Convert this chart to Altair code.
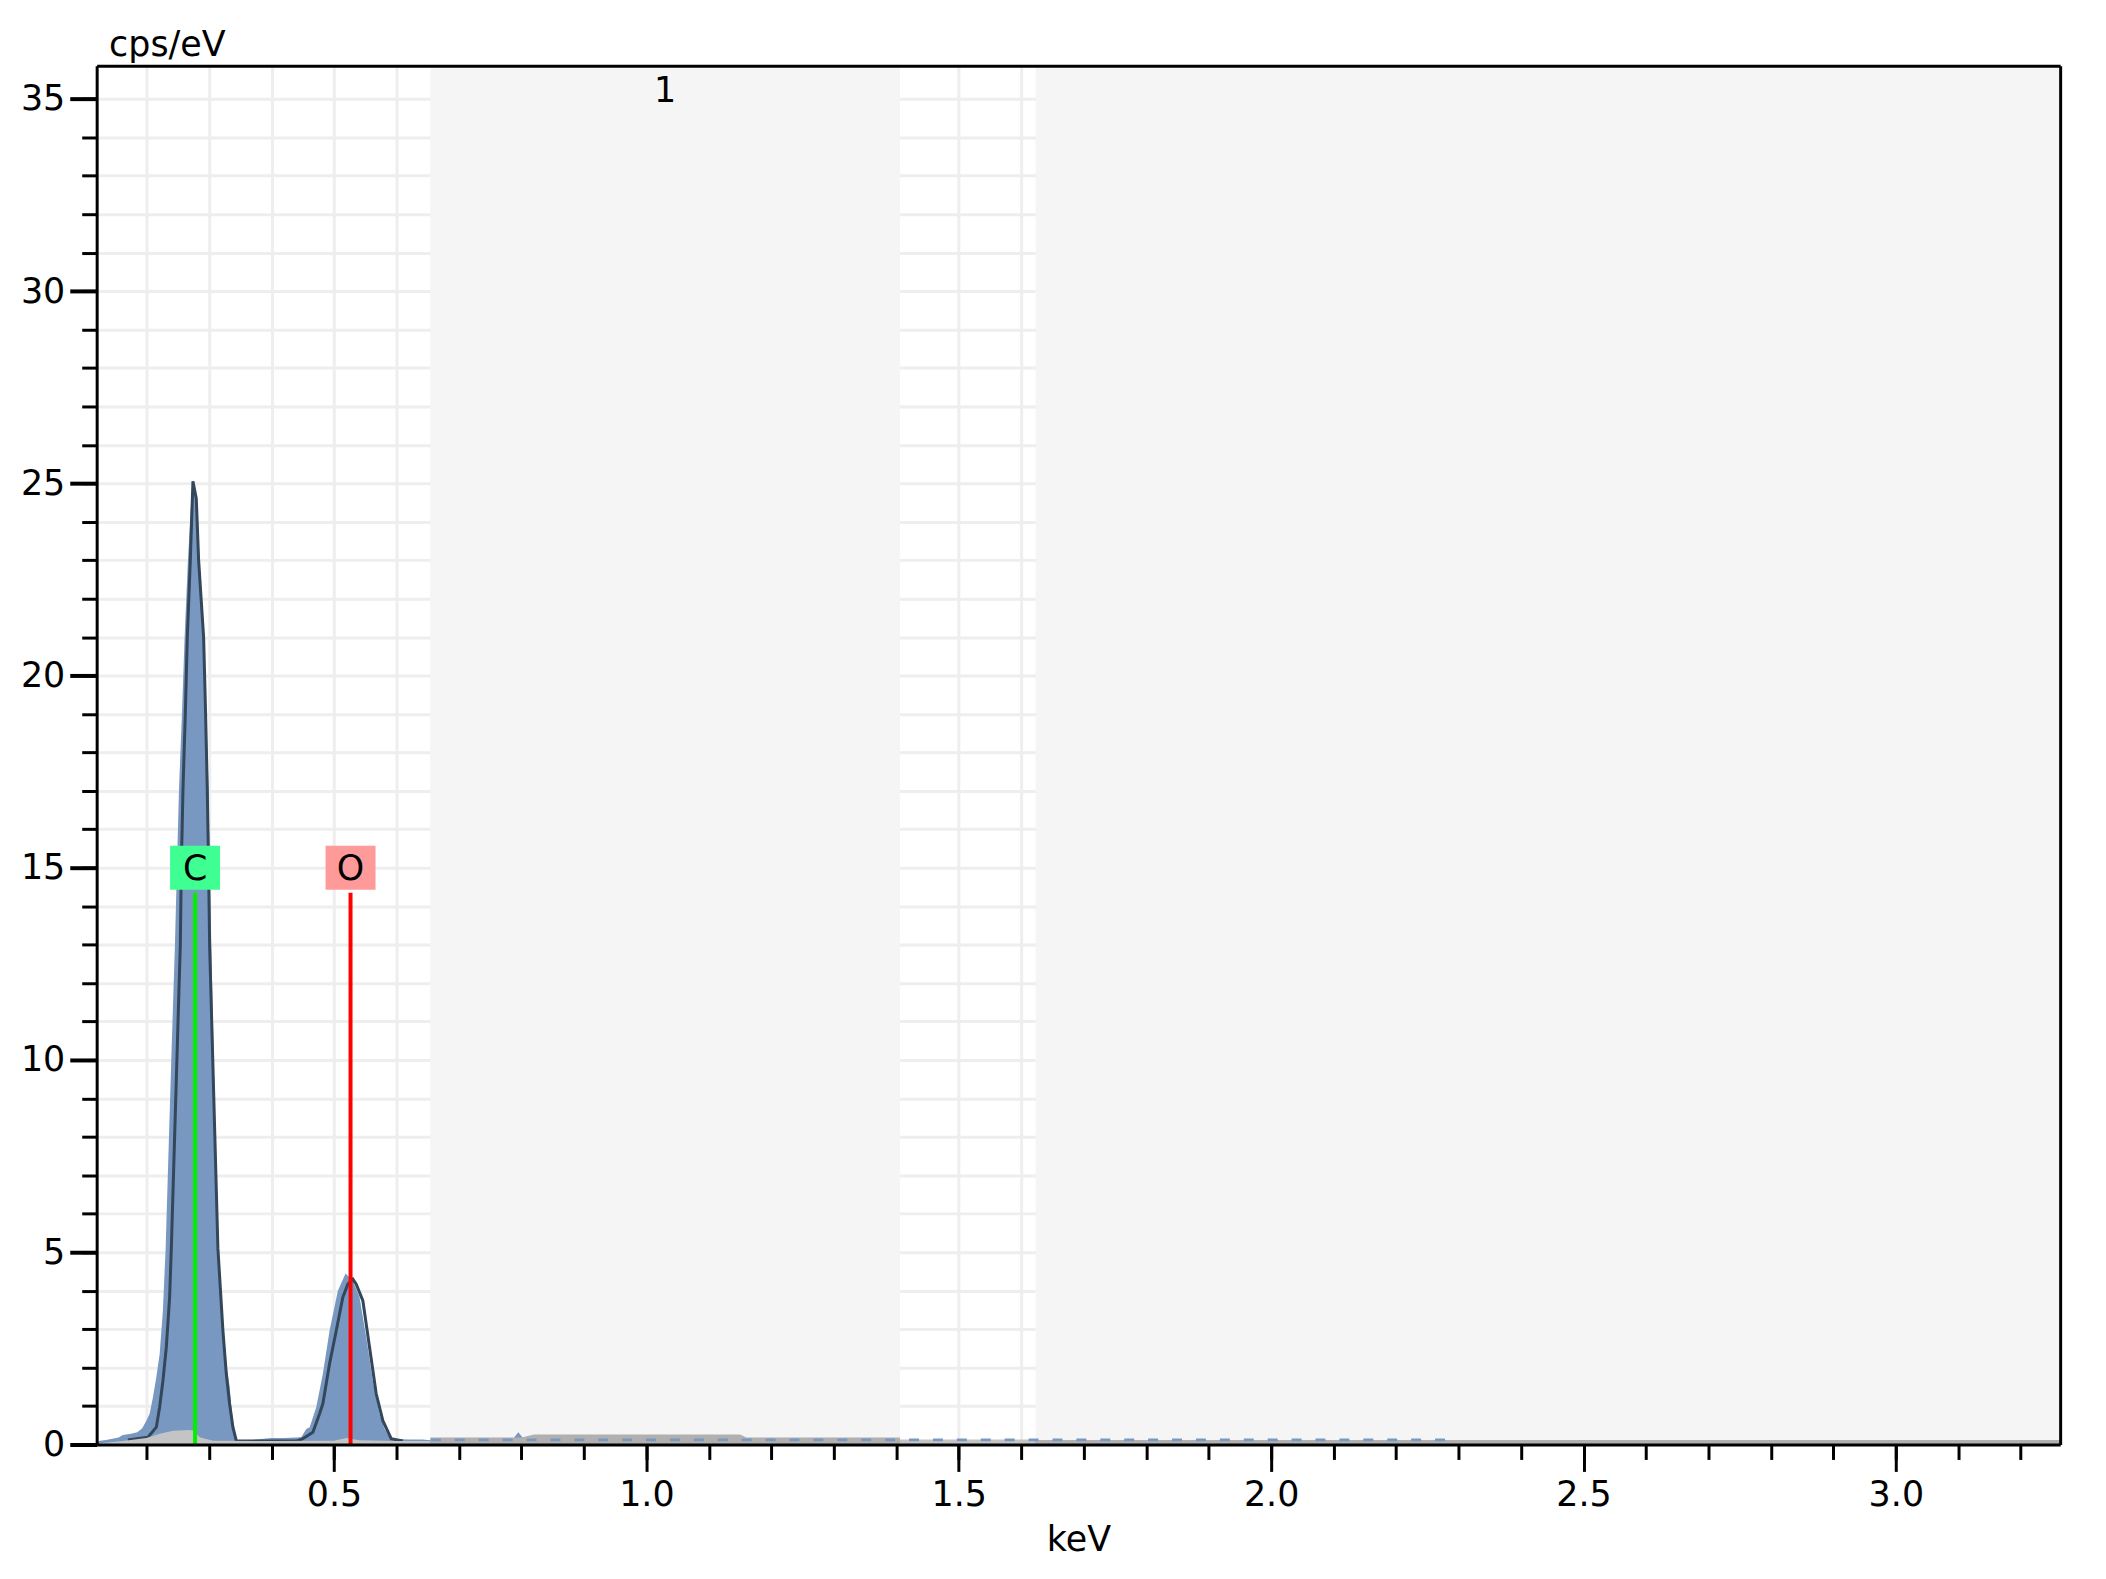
import altair as alt
import pandas as pd

# ---------------- data ----------------
# measured spectrum (filled blue area), keV / cps/eV
spec_energy = [0.120, 0.125, 0.135, 0.145, 0.155, 0.162, 0.175, 0.185, 0.193, 0.1995,
               0.2048, 0.2101, 0.2155, 0.2208, 0.2261, 0.2304, 0.235, 0.240, 0.2453, 0.2485,
               0.2517, 0.2565, 0.2608, 0.2661, 0.2715, 0.2752, 0.2805, 0.2848, 0.2917, 0.2955,
               0.2992, 0.3008, 0.3035, 0.307, 0.3105, 0.3141, 0.3195, 0.3248, 0.3285, 0.3328,
               0.3355, 0.3381, 0.3413, 0.3435, 0.350, 0.370, 0.3995, 0.420, 0.4475, 0.4555,
               0.461, 0.4715, 0.4821, 0.4928, 0.5061, 0.5184, 0.5301, 0.5408, 0.5515, 0.5621,
               0.5728, 0.5810, 0.5888, 0.600, 0.620, 0.642, 0.650,
               0.700, 0.785, 0.795, 0.805, 1.200, 2.000, 3.263]
spec_counts = [0.05, 0.10, 0.12, 0.15, 0.18, 0.25, 0.28, 0.32, 0.42, 0.62,
               0.80, 1.23, 1.75, 2.35, 3.5, 5.1, 7.6, 10.3, 13.0, 15.0,
               17.0, 19.0, 21.0, 23.0, 24.6, 25.05, 24.6, 23.0, 21.0, 19.0,
               17.0, 15.0, 13.0, 10.3, 7.6, 5.1, 3.9, 2.7, 2.0, 1.5,
               0.97, 0.62, 0.32, 0.12, 0.11, 0.12, 0.17, 0.17, 0.19, 0.40,
               0.45, 0.97, 1.84, 2.96, 4.0, 4.45, 4.26, 3.83, 2.79, 1.66,
               0.80, 0.40, 0.19, 0.14, 0.13, 0.13, 0.12,
               0.12, 0.12, 0.32, 0.12, 0.12, 0.11, 0.10]

# fitted spectrum (dark outline)
fit_energy = [0.17, 0.2021, 0.2155, 0.2208, 0.2261, 0.2315, 0.2368, 0.2395, 0.2539, 0.2555,
              0.2581, 0.2619, 0.2651, 0.2699, 0.2741, 0.2795, 0.2832, 0.2912, 0.2944, 0.2971,
              0.2992, 0.3008, 0.3141, 0.3221, 0.3275, 0.3328, 0.3381, 0.3435, 0.36, 0.40,
              0.44, 0.4501, 0.4661, 0.4768, 0.4821, 0.4928, 0.5035, 0.5141, 0.5221, 0.5301,
              0.5355, 0.5461, 0.5568, 0.5675, 0.5781, 0.5915, 0.61]
fit_counts = [0.12, 0.19, 0.45, 0.97, 1.66, 2.53, 3.83, 5.1, 13.0, 15.0,
              17.0, 19.0, 21.0, 23.0, 25.05, 24.6, 23.0, 21.0, 19.0, 17.0,
              15.0, 13.0, 5.1, 2.96, 1.84, 1.06, 0.45, 0.10, 0.09, 0.09,
              0.09, 0.15, 0.32, 0.80, 1.06, 2.10, 2.96, 3.83, 4.17, 4.30,
              4.17, 3.74, 2.53, 1.32, 0.62, 0.15, 0.09]

# background (gray areas)
bg_energy = [0.120, 0.125, 0.162, 0.1995, 0.221, 0.2421, 0.2688, 0.276, 0.2848, 0.3061,
             0.40, 0.50, 0.52, 0.54, 0.60, 0.654,
             0.654, 0.800, 0.820, 1.150, 1.160, 1.383, 1.406,
             1.406, 1.623,
             1.623, 3.263]
bg_counts = [0.0, 0.03, 0.09, 0.17, 0.28, 0.36, 0.38, 0.36, 0.19, 0.10,
             0.09, 0.10, 0.17, 0.11, 0.09, 0.09,
             0.18, 0.18, 0.26, 0.26, 0.18, 0.18, 0.18,
             0.13, 0.13,
             0.12, 0.12]
bg_zone = ["light"] * 16 + ["dark"] * 7 + ["light"] * 2 + ["dark"] * 2
bg_seg = [1] * 16 + [2] * 7 + [3] * 2 + [4] * 2

# low-count channels beyond the peaks
noise_energy = [0.655, 2.28]
noise_counts = [0.12, 0.12]

# analysed regions
region_start = [0.654, 1.623]
region_end = [1.406, 3.263]
region_label = ["1"]
region_label_energy = [1.03]
region_label_counts = [34.92]

# element lines
elem_labels = ["C", "O"]
elem_energy = [0.2775, 0.5264]
elem_line_top = [14.35, 14.35]
elem_label_counts = [15.0, 15.0]

# axes
x_major_ticks = [0.5, 1.0, 1.5, 2.0, 2.5, 3.0]
x_minor_ticks = [0.2, 0.3, 0.4, 0.5, 0.6, 0.7, 0.8, 0.9, 1.0, 1.1, 1.2, 1.3, 1.4, 1.5, 1.6,
                 1.7, 1.8, 1.9, 2.0, 2.1, 2.2, 2.3, 2.4, 2.5, 2.6, 2.7, 2.8, 2.9, 3.0, 3.1, 3.2]
y_major_ticks = [0, 5, 10, 15, 20, 25, 30, 35]
y_minor_ticks = list(range(0, 36))

# ---------------- chart ----------------
FONT = "DejaVu Sans"
FS = 35
BLUE = "#7898c1"

spec_df = pd.DataFrame({"energy": spec_energy, "counts": spec_counts})
fit_df = pd.DataFrame({"energy": fit_energy, "counts": fit_counts})
bg_df = pd.DataFrame({"energy": bg_energy, "counts": bg_counts, "zone": bg_zone, "seg": bg_seg})
noise_df = pd.DataFrame({"energy": noise_energy, "counts": noise_counts})
region_df = pd.DataFrame({"start": region_start, "end": region_end})
rlabel_df = pd.DataFrame({"energy": region_label_energy, "counts": region_label_counts,
                          "label": region_label})
elem_df = pd.DataFrame({"energy": elem_energy, "top": elem_line_top,
                        "label": elem_labels, "ly": elem_label_counts})

xs = alt.Scale(domain=[0.12, 3.263], nice=False, zero=False)
ys = alt.Scale(domain=[0, 35.86], nice=False, zero=False)

regions = alt.Chart(region_df).mark_rect(color="#f5f5f5").encode(
    x=alt.X("start:Q", scale=xs,
            axis=alt.Axis(values=x_minor_ticks, orient="bottom", labels=False, domain=False,
                          ticks=True, tickSize=15, tickWidth=3, tickColor="black",
                          grid=True, gridColor="#eeeeee", gridWidth=3, title=None, zindex=0)),
    x2="end:Q",
)

spectrum = alt.Chart(spec_df).mark_area(color=BLUE, opacity=1).encode(
    x=alt.X("energy:Q", scale=xs,
            axis=alt.Axis(values=x_major_ticks, format=".1f", orient="bottom",
                          tickSize=27, tickWidth=3, tickColor="black",
                          domain=True, domainColor="black", domainWidth=3, grid=False,
                          labelFont=FONT, labelFontSize=FS, labelColor="black",
                          labelPadding=6, labelFlush=False, labelOverlap=False,
                          title="keV", titleFont=FONT, titleFontSize=FS,
                          titleFontWeight="normal", titleColor="black",
                          titleY=106, titleBaseline="alphabetic", zindex=1)),
    y=alt.Y("counts:Q", scale=ys,
            axis=alt.Axis(values=y_major_ticks, orient="left",
                          tickSize=27, tickWidth=4, tickColor="black",
                          domain=True, domainColor="black", domainWidth=3, grid=False,
                          labelFont=FONT, labelFontSize=FS, labelColor="black",
                          labelPadding=5, labelFlush=False, labelOverlap=False,
                          title="cps/eV", titleFont=FONT, titleFontSize=FS,
                          titleFontWeight="normal", titleColor="black", titleAngle=0,
                          titleAlign="left", titleBaseline="alphabetic",
                          titleX=12, titleY=-10, zindex=1)),
)

fit = alt.Chart(fit_df).mark_line(color="#33465a", strokeWidth=3).encode(
    x=alt.X("energy:Q", scale=xs, axis=None),
    y=alt.Y("counts:Q", scale=ys,
            axis=alt.Axis(values=y_minor_ticks, orient="left", tickSize=15, tickWidth=3,
                          tickColor="black", labels=False, domain=False, grid=True,
                          gridColor="#eeeeee", gridWidth=3, title=None, zindex=0)),
)

background = alt.Chart(bg_df).mark_area(opacity=1).encode(
    x=alt.X("energy:Q", scale=xs, axis=None),
    y=alt.Y("counts:Q", scale=ys, axis=None, stack=None),
    color=alt.Color("zone:N", scale=alt.Scale(domain=["light", "dark"],
                                               range=["#c4c4c4", "#b0b0b0"]), legend=None),
    detail="seg:N",
)

noise = alt.Chart(noise_df).mark_line(color=BLUE, strokeWidth=3, strokeDash=[10, 14]).encode(
    x=alt.X("energy:Q", scale=xs, axis=None),
    y=alt.Y("counts:Q", scale=ys, axis=None),
)

rules = alt.Chart(elem_df).transform_calculate(base="0").mark_rule(strokeWidth=4).encode(
    x=alt.X("energy:Q", scale=xs, axis=None),
    y=alt.Y("base:Q", scale=ys, axis=None),
    y2="top:Q",
    stroke=alt.Stroke("label:N", scale=alt.Scale(domain=["C", "O"], range=["#00f000", "#ff0000"]),
                      legend=None),
)

BOX = "M-1.14,-1L1.14,-1L1.14,1L-1.14,1Z"
boxes = alt.Chart(elem_df).mark_point(shape=BOX, size=1936, filled=True, opacity=1,
                                      strokeWidth=0).encode(
    x=alt.X("energy:Q", scale=xs, axis=None),
    y=alt.Y("ly:Q", scale=ys, axis=None),
    fill=alt.Fill("label:N", scale=alt.Scale(domain=["C", "O"], range=["#40ff92", "#ff9a9a"]),
                  legend=None),
)

labels = alt.Chart(elem_df).mark_text(font=FONT, fontSize=FS, color="black", align="center",
                                      baseline="middle", dy=1).encode(
    x=alt.X("energy:Q", scale=xs, axis=None),
    y=alt.Y("ly:Q", scale=ys, axis=None),
    text="label:N",
)

rlabel = alt.Chart(rlabel_df).mark_text(font=FONT, fontSize=FS, color="black", align="center",
                                        baseline="alphabetic").encode(
    x=alt.X("energy:Q", scale=xs,
            axis=alt.Axis(orient="top", labels=False, ticks=False, grid=False, domain=True,
                          domainColor="black", domainWidth=3, title=None, zindex=1)),
    y=alt.Y("counts:Q", scale=ys,
            axis=alt.Axis(orient="right", labels=False, ticks=False, grid=False, domain=True,
                          domainColor="black", domainWidth=3, title=None, zindex=1)),
    text="label:N",
)

chart = alt.layer(
    regions, spectrum, fit, background, noise, rules, boxes, labels, rlabel
).resolve_axis(
    x="independent", y="independent"
).resolve_scale(
    fill="independent", stroke="independent"
).properties(
    width=1971, height=1384,
    autosize=alt.AutoSizeParams(type="none"),
    padding={"left": 89, "top": 55, "right": 38, "bottom": 124},
    background="white",
).configure_view(stroke=None)

chart.save("out.html", embed_options={"renderer": "svg", "actions": False})
